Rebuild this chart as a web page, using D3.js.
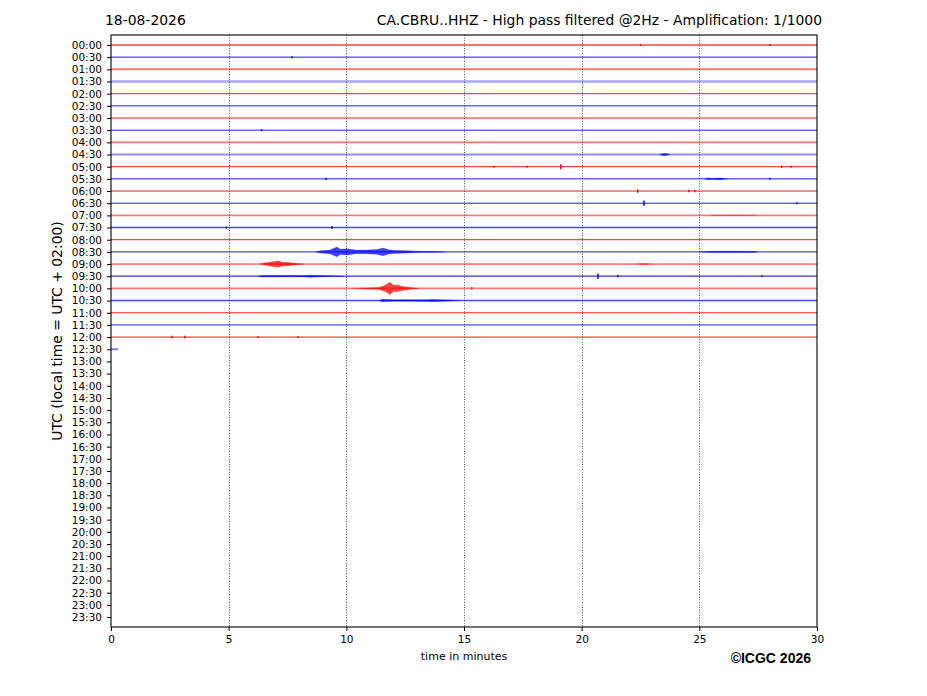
<!DOCTYPE html>
<html>
  <head>
    <title>Helicorder</title>
    <script src="https://d3js.org/d3.v7.min.js"></script>
    <style>
      body { margin: 0; background: #fff; }
      text { font-family: "DejaVu Sans", sans-serif; fill: #000; }
    </style>
  </head>
  <body>
    <svg width="927" height="696"></svg>
    <script>
      // row labels (UTC start of each 30 minute line)
      const rowLabels = [
        "00:00","00:30","01:00","01:30","02:00","02:30","03:00","03:30",
        "04:00","04:30","05:00","05:30","06:00","06:30","07:00","07:30",
        "08:00","08:30","09:00","09:30","10:00","10:30","11:00","11:30",
        "12:00","12:30","13:00","13:30","14:00","14:30","15:00","15:30",
        "16:00","16:30","17:00","17:30","18:00","18:30","19:00","19:30",
        "20:00","20:30","21:00","21:30","22:00","22:30","23:00","23:30"
      ];
      const xTicks = [0, 5, 10, 15, 20, 25, 30];
      const traceColors = ["#ff0000", "#0000ff"];

      // recorded length of each line (minutes), only the first 26 lines have data
      const traceEnd = [30,30,30,30,30,30,30,30,30,30,30,30,30,
                        30,30,30,30,30,30,30,30,30,30,30,30,0.3];
      // background noise level per line (fraction of line spacing)
      const rowNoise = [0.06,0.04,0.08,0.1,0.04,0.04,0.04,0.04,0.08,0.09,0.04,0.04,0.04,
                        0.04,0.08,0.06,0.04,0.04,0.04,0.05,0.08,0.06,0.04,0.04,0.04,0.08];

      // short impulses: [line, minute, amplitude]
      const spikes = [
        [0, 22.5, 0.04], [0, 28.0, 0.04], [1, 7.7, 0.04], [7, 6.4, 0.04],
        [10, 16.27, 0.07], [10, 17.68, 0.05], [10, 19.11, 0.2], [10, 28.5, 0.1], [10, 28.9, 0.08],
        [11, 9.14, 0.1], [11, 28.0, 0.05],
        [12, 22.38, 0.14], [12, 24.55, 0.1], [12, 24.8, 0.1],
        [13, 22.65, 0.22], [13, 29.15, 0.05],
        [15, 9.39, 0.12], [15, 4.9, 0.04],
        [19, 20.69, 0.22], [19, 21.54, 0.1], [19, 27.66, 0.05],
        [20, 15.33, 0.1],
        [24, 2.59, 0.12], [24, 3.14, 0.12], [24, 6.25, 0.06], [24, 7.95, 0.06]
      ];

      // longer events: line + envelope points [minute, amplitude]
      const events = [
        {row: 9,  env: [[23.3,0],[23.45,0.09],[23.6,0.09],[23.75,0]]},
        {row: 11, env: [[25.2,0],[25.35,0.08],[25.6,0.05],[25.9,0.08],[26.2,0]]},
        {row: 14, env: [[25.5,0],[26.5,0.02],[27.4,0]]},
        {row: 17, env: [[8.7,0],[8.9,0.1],[9.3,0.15],[9.6,0.4],[9.75,0.22],[10.05,0.26],[10.4,0.15],
                        [10.9,0.16],[11.3,0.2],[11.56,0.32],[11.8,0.18],[12.0,0.14],[12.6,0.1],
                        [13.0,0.06],[13.85,0.03],[14.2,0]]},
        {row: 17, env: [[25.0,0],[25.5,0.05],[26.5,0.06],[27.3,0.05],[27.5,0]]},
        {row: 18, env: [[6.3,0],[6.63,0.12],[6.9,0.2],[7.1,0.27],[7.3,0.15],[7.5,0.14],[7.9,0.05],[8.2,0]]},
        {row: 18, env: [[22.35,0],[22.6,0.04],[22.9,0]]},
        {row: 19, env: [[6.25,0],[6.4,0.07],[7.0,0.06],[7.6,0.05],[8.2,0.06],[8.46,0.09],[9.0,0.05],
                        [9.6,0.02],[9.9,0]]},
        {row: 20, env: [[10.3,0],[10.8,0.04],[11.4,0.08],[11.64,0.25],[11.86,0.5],[12.0,0.25],
                        [12.15,0.28],[12.41,0.16],[12.83,0.05],[13.1,0]]},
        {row: 21, env: [[11.4,0],[11.52,0.1],[12.0,0.06],[12.8,0.06],[13.4,0.07],[13.64,0.09],
                        [14.4,0.04],[14.8,0]]}
      ];

      const margin = {top: 35, right: 110, bottom: 69, left: 111};
      const svg = d3.select("svg");
      const width = +svg.attr("width");
      const height = +svg.attr("height");
      const innerWidth = width - margin.left - margin.right;
      const innerHeight = height - margin.top - margin.bottom;

      const xScale = d3.scaleLinear().domain([0, 30]).range([0, innerWidth]);
      const yScale = d3.scaleLinear().domain([-0.82, rowLabels.length - 1 + 0.82]).range([0, innerHeight]);
      const rowStep = yScale(1) - yScale(0);
      const ampScale = d3.scaleLinear().domain([0, 1]).range([0, rowStep]);
      const noiseOpacity = d3.scaleLinear().domain([0.04, 0.1]).range([0.9, 0.35]).clamp(true);
      const noiseWidth = d3.scaleLinear().domain([0.04, 0.1]).range([1, 2.4]).clamp(true);
      const color = i => traceColors[i % 2];

      const g = svg.append("g").attr("transform", `translate(${margin.left}, ${margin.top})`);

      // dotted vertical grid
      g.append("g").selectAll("line").data(xTicks.slice(1, -1)).enter().append("line")
        .attr("x1", d => Math.round(xScale(d)) + 0.5).attr("x2", d => Math.round(xScale(d)) + 0.5)
        .attr("y1", 0).attr("y2", innerHeight)
        .attr("stroke", "#000").attr("stroke-width", 0.7).attr("stroke-dasharray", "1,1.6");

      // baselines with background noise
      g.append("g").selectAll("line").data(traceEnd).enter().append("line")
        .attr("x1", 0).attr("x2", d => xScale(d))
        .attr("y1", (d, i) => yScale(i)).attr("y2", (d, i) => yScale(i))
        .attr("stroke", (d, i) => color(i))
        .attr("stroke-opacity", (d, i) => noiseOpacity(rowNoise[i]))
        .attr("stroke-width", (d, i) => noiseWidth(rowNoise[i]));

      // events as filled envelopes
      const area = d3.area()
        .x(d => xScale(d[0]))
        .y0(d => -ampScale(d[1]))
        .y1(d => ampScale(d[1]));
      g.append("g").selectAll("path").data(events).enter().append("path")
        .attr("transform", d => `translate(0, ${yScale(d.row)})`)
        .attr("d", d => area(d.env))
        .attr("fill", d => color(d.row))
        .attr("fill-opacity", 0.75)
        .attr("stroke", d => color(d.row))
        .attr("stroke-opacity", 0.6)
        .attr("stroke-width", 0.4);

      // impulses
      g.append("g").selectAll("line").data(spikes).enter().append("line")
        .attr("x1", d => xScale(d[1])).attr("x2", d => xScale(d[1]))
        .attr("y1", d => yScale(d[0]) - Math.max(1, ampScale(d[2])))
        .attr("y2", d => yScale(d[0]) + Math.max(1, ampScale(d[2])))
        .attr("stroke", d => color(d[0]))
        .attr("stroke-width", 1.4);

      // axes
      const xAxis = d3.axisBottom(xScale).tickValues(xTicks).tickFormat(d3.format("d"))
        .tickSize(4).tickPadding(5);
      const yAxis = d3.axisLeft(yScale).tickValues(d3.range(rowLabels.length))
        .tickFormat(i => rowLabels[i]).tickSize(4).tickPadding(5);

      const gx = g.append("g").attr("transform", `translate(0, ${innerHeight})`).call(xAxis);
      const gy = g.append("g").call(yAxis);
      [gx, gy].forEach(a => {
        a.select(".domain").remove();
        a.selectAll("text").style("font-family", "DejaVu Sans").style("font-size", "10.5px");
        a.selectAll("line").attr("stroke", "#000").attr("stroke-width", 1);
      });

      // frame
      g.append("rect")
        .attr("x", 0).attr("y", 0).attr("width", innerWidth).attr("height", innerHeight)
        .attr("fill", "none").attr("stroke", "#000").attr("stroke-width", 1.1);

      // labels
      g.append("text")
        .attr("x", innerWidth / 2).attr("y", innerHeight + 33)
        .attr("text-anchor", "middle").style("font-size", "11px")
        .text("time in minutes");

      svg.append("text")
        .attr("transform", `translate(62, ${margin.top + innerHeight / 2}) rotate(-90)`)
        .attr("text-anchor", "middle").style("font-size", "13.9px")
        .text("UTC (local time = UTC + 02:00)");

      svg.append("text")
        .attr("x", 105).attr("y", 25)
        .style("font-size", "13.9px")
        .text("18-08-2026");

      svg.append("text")
        .attr("x", 822).attr("y", 25).attr("text-anchor", "end")
        .style("font-size", "13.9px")
        .text("CA.CBRU..HHZ - High pass filtered @2Hz - Amplification: 1/1000");

      svg.append("text")
        .attr("x", 811).attr("y", 663).attr("text-anchor", "end")
        .style("font-family", "Liberation Sans, Arial, sans-serif")
        .style("font-weight", "bold").style("font-size", "14px")
        .text("\u00A9ICGC 2026");
    </script>
  </body>
</html>
